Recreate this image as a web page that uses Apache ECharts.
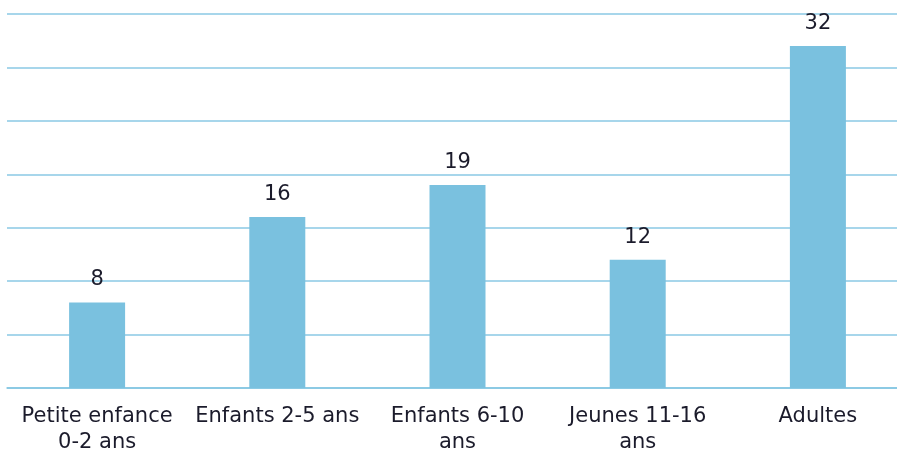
<!DOCTYPE html>
<html>
<head>
<meta charset="utf-8">
<script src="https://cdn.jsdelivr.net/npm/echarts@6/dist/echarts.min.js"></script>
<style>
  html, body { margin: 0; padding: 0; background: #fff; overflow: hidden; }
  /* the plot area runs slightly past the right edge of the window */
  #chart { width: 908px; height: 454px; }
</style>
</head>
<body>
<div id="chart"></div>
<script>
// Age groups (line breaks where the labels wrap)
const categories = [
  'Petite enfance\n0-2 ans',
  'Enfants 2-5 ans',
  'Enfants 6-10\nans',
  'Jeunes 11-16\nans',
  'Adultes'
];
const values = [8, 16, 19, 12, 32];

const FONT = '"DejaVu Sans", Verdana, sans-serif';
const TEXT = '#1b1b2b';

const chart = echarts.init(document.getElementById('chart'), null, { renderer: 'canvas' });
chart.setOption({
  animation: false,
  grid: {
    left: 7, right: 0, top: 14, bottom: 66,
    containLabel: false,
    outerBoundsMode: 'none'
  },
  xAxis: {
    type: 'category',
    data: categories,
    axisTick: { show: false },
    axisLine: { show: true, lineStyle: { color: '#84c6e2', width: 1.5 } },
    axisLabel: {
      interval: 0,
      margin: 16,
      color: TEXT,
      fontFamily: FONT,
      fontSize: 21,
      lineHeight: 26
    }
  },
  yAxis: {
    type: 'value',
    min: 0,
    max: 35,
    interval: 5,
    axisLabel: { show: false },
    axisLine: { show: false },
    axisTick: { show: false },
    splitLine: { lineStyle: { color: '#8ac9e4', width: 1.5 } }
  },
  series: [{
    type: 'bar',
    data: values,
    barWidth: 56,
    itemStyle: { color: '#7ac1df' },
    label: {
      show: true,
      position: 'top',
      distance: 12,
      color: TEXT,
      fontFamily: FONT,
      fontSize: 21
    }
  }]
});
</script>
</body>
</html>
